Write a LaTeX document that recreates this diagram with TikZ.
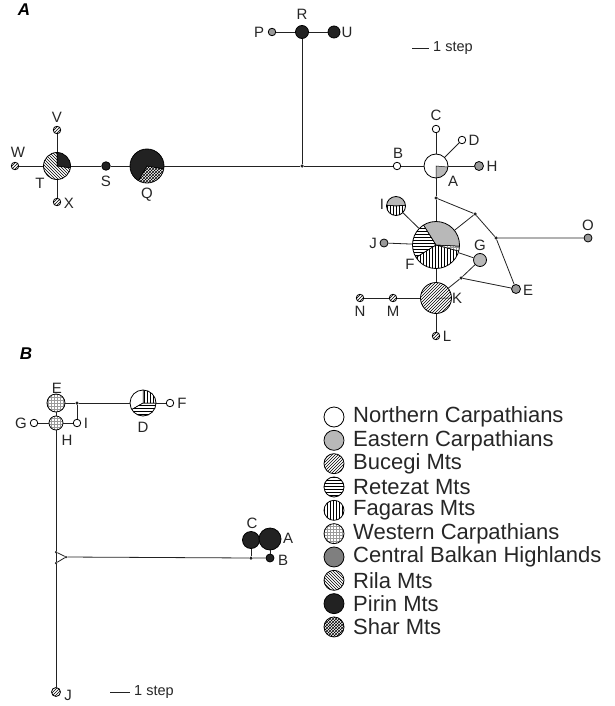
\documentclass[tikz,border=0pt]{standalone}
\usepackage{fontspec}
\setmainfont{Liberation Sans}
\usetikzlibrary{patterns}
\definecolor{eastgray}{HTML}{B8B8B8}
\definecolor{cbgray}{HTML}{7F7F7F}
\definecolor{midgray}{HTML}{999999}
\definecolor{linecol}{HTML}{222222}
\newcommand\pslice[3]{\draw[line width=0.5pt,#3] (path picture bounding box.center) -- ++(#1:40) arc[start angle=#1,end angle=#2,radius=40] -- cycle;}
\tikzset{
  nd/.style={circle,draw=black,line width=0.8pt,inner sep=0pt,fill=white,minimum size=#1},
  nd/.default=7.5pt,
  jd/.style={circle,fill=linecol,inner sep=0pt,minimum size=3.5pt},
  tiny/.style={circle,fill=linecol,inner sep=0pt,minimum size=2.5pt},
  tl/.style={font=\fontsize{15}{17}\selectfont,inner sep=0pt,text=black!85},
  sc/.style={font=\fontsize{14.5}{16}\selectfont,inner sep=0pt,anchor=west,text=black!85},
  ln/.style={line width=0.8pt,draw=linecol},
  leg/.style={font=\fontsize{22}{24}\selectfont,anchor=west,inner sep=0pt,text=black!85},
  panel/.style={font=\bfseries\itshape\fontsize{17}{20}\selectfont,inner sep=0pt},
  bucegi/.style={pattern=north east lines},
  retezat/.style={pattern=horizontal lines},
  fagaras/.style={pattern=vertical lines},
  western/.style={pattern=grid,pattern color=black!40},
  rila/.style={pattern=north west lines},
  shar/.style={pattern=crosshatch},
  pirin/.style={fill=linecol},
  eastern/.style={fill=eastgray},
  central/.style={fill=cbgray},
  northern/.style={fill=white},
}
\begin{document}
\begin{tikzpicture}[x=1pt,y=1pt]
\useasboundingbox (0,0) rectangle (615,-706);
% ---------------- Panel A ----------------
\node[panel] (pa) at (24,-10) {A};
\coordinate (sa1) at (412,-48);
\coordinate (sa2) at (429,-48);
\draw[ln] (sa1) -- (sa2);
\node[sc] (sat) at (433,-48) {1 step};

\node[nd,bucegi] (W) at (15,-166) {};
\node[nd,bucegi] (V) at (57,-130) {};
\node[nd,bucegi] (X) at (57,-202) {};
\node[nd=27pt,path picture={\pslice{90}{-8}{pirin}\pslice{-8}{-270}{rila}}] (T) at (57,-166) {};
\node[nd=8.5pt,fill=linecol] (S) at (106,-166) {};
\node[nd=34pt,path picture={\pslice{-10}{240}{pirin}\pslice{-120}{-10}{shar}}] (Q) at (147,-166) {};
\node[jd] (j1) at (302,-166) {};
\node[nd=13pt,fill=linecol] (R) at (302,-32) {};
\node[nd,fill=midgray] (P) at (272,-32) {};
\node[nd=12pt,fill=linecol] (U) at (334,-32) {};
\node[nd] (B) at (397,-166) {};
\node[nd=24pt,path picture={\pslice{-5}{-90}{eastern}}] (A) at (436,-166) {};
\node[nd] (C) at (436,-129) {};
\node[nd] (D) at (462,-140) {};
\node[nd=9pt,fill=midgray] (H) at (479,-166) {};
\node[jd] (j2) at (436,-198) {};
\node[jd] (j3) at (475,-214) {};
\node[jd] (j4) at (496,-238) {};
\node[jd] (j5) at (461,-278) {};
\node[nd=8pt,fill=midgray] (O) at (588,-238) {};
\node[nd=9pt,fill=midgray] (E) at (516,-289) {};
\node[nd=13pt,fill=eastgray] (G) at (480,-260) {};
\node[nd=47pt,path picture={\pslice{-3}{122}{eastern}\pslice{122}{212}{retezat}\pslice{212}{345}{fagaras}\pslice{345}{357}{western}}] (F) at (436,-245) {};
\node[nd=19pt,path picture={\pslice{5}{175}{eastern}\pslice{175}{365}{fagaras}}] (I) at (396,-206) {};
\node[nd=8pt,fill=midgray] (J) at (384,-243) {};
\node[nd=31pt,path picture={\pslice{0}{360}{bucegi}}] (K) at (436,-298) {};
\node[nd,bucegi] (M) at (393,-298) {};
\node[nd,bucegi] (N) at (360,-298) {};
\node[nd,bucegi] (L) at (436,-336) {};

\draw[ln] (W) -- (T) -- (S) -- (Q) -- (j1) -- (B) -- (A) -- (H);
\draw[ln] (V) -- (T) -- (X);
\draw[ln] (P) -- (R) -- (U);
\draw[ln] (R) -- (j1);
\draw[ln] (C) -- (A);
\draw[ln] (D) -- (A);
\draw[ln] (A) -- (j2) -- (F);
\draw[ln] (j2) -- (j3) -- (F);
\draw[ln] (j3) -- (j4) -- (O);
\draw[ln] (j4) -- (E) -- (j5) -- (G) -- (F);
\draw[ln] (j5) -- (K);
\draw[ln] (I) -- (F);
\draw[ln] (J) -- (F);
\draw[ln] (F) -- (K);
\draw[ln] (N) -- (M) -- (K);
\draw[ln] (K) -- (L);

\node[tl] (lW) at (18,-152) {W};
\node[tl] (lV) at (57,-117) {V};
\node[tl] (lX) at (69,-203) {X};
\node[tl] (lT) at (40,-183) {T};
\node[tl] (lS) at (106,-181) {S};
\node[tl] (lQ) at (147,-195) {Q};
\node[tl] (lR) at (302,-14) {R};
\node[tl] (lP) at (259,-32) {P};
\node[tl] (lU) at (347,-32) {U};
\node[tl] (lB) at (398,-153) {B};
\node[tl] (lA) at (453,-181) {A};
\node[tl] (lC) at (436,-115) {C};
\node[tl] (lD) at (474,-140) {D};
\node[tl] (lH) at (492,-166) {H};
\node[tl] (lO) at (588,-225) {O};
\node[tl] (lE) at (528,-290) {E};
\node[tl] (lG) at (480,-245) {G};
\node[tl] (lF) at (410,-264) {F};
\node[tl] (lI) at (382,-204) {I};
\node[tl] (lJ) at (373,-243) {J};
\node[tl] (lK) at (457,-298) {K};
\node[tl] (lM) at (393,-311) {M};
\node[tl] (lN) at (360,-311) {N};
\node[tl] (lL) at (447,-336) {L};

% ---------------- Panel B ----------------
\node[panel] (pb) at (26,-354) {B};
\node[nd=18pt,western] (Eb) at (56,-403) {};
\node[jd] (bj1) at (77,-403) {};
\node[nd=26pt,path picture={\pslice{0}{90}{fagaras}\pslice{90}{210}{northern}\pslice{210}{360}{retezat}}] (Db) at (143,-403) {};
\node[nd] (Fb) at (170,-403) {};
\node[nd] (Ib) at (77,-423) {};
\node[nd=14pt,western] (Hb) at (56,-423) {};
\node[nd] (Gb) at (34,-423) {};
\node[tiny] (t1) at (56,-552) {};
\node[tiny] (t2) at (56,-563) {};
\node[tiny] (tap) at (66,-557) {};
\node[jd] (bj2) at (251,-558) {};
\node[nd=8pt,fill=linecol] (Bb) at (270,-558) {};
\node[nd=17pt,fill=linecol] (Cb) at (251,-540) {};
\node[nd=22pt,fill=linecol] (Ab) at (270,-539) {};
\node[nd=9pt,bucegi] (Jb) at (56,-692) {};
\coordinate (sb1) at (110,-692);
\coordinate (sb2) at (130,-692);
\draw[ln] (sb1) -- (sb2);
\node[sc] (sbt) at (134,-692) {1 step};

\draw[ln] (Eb) -- (bj1) -- (Db) -- (Fb);
\draw[ln] (bj1) -- (Ib);
\draw[ln] (Gb) -- (Hb) -- (Ib);
\draw[ln] (Eb) -- (Hb);
\draw[ln] (Hb) -- (t1) -- (t2) -- (Jb);
\draw[ln] (t1) -- (tap) -- (t2);
\draw[ln] (tap) -- (bj2) -- (Bb);
\draw[ln] (Cb) -- (bj2);
\draw[ln] (Ab) -- (Bb);

\node[tl] (lEb) at (57,-388) {E};
\node[tl] (lDb) at (143,-427) {D};
\node[tl] (lFb) at (182,-403) {F};
\node[tl] (lIb) at (86,-423) {I};
\node[tl] (lHb) at (67,-440) {H};
\node[tl] (lGb) at (21,-423) {G};
\node[tl] (lBb) at (283,-560) {B};
\node[tl] (lCb) at (252,-523) {C};
\node[tl] (lAb) at (288,-538) {A};
\node[tl] (lJb) at (68,-695) {J};

% ---------------- Legend ----------------
\foreach \i/\sty/\txt in {0/northern/Northern Carpathians,1/eastern/Eastern Carpathians,2/bucegi/Bucegi Mts,3/retezat/Retezat Mts,4/fagaras/Fagaras Mts,5/western/Western Carpathians,6/central/Central Balkan Highlands,7/rila/Rila Mts,8/pirin/Pirin Mts,9/shar/Shar Mts}{
  \node[nd=20pt,\sty] (g\i) at (334,{-417-23.33*\i}) {};
  \node[leg] (gt\i) at (353,{-417-23.33*\i}) {\txt};
}
\end{tikzpicture}
\end{document}
